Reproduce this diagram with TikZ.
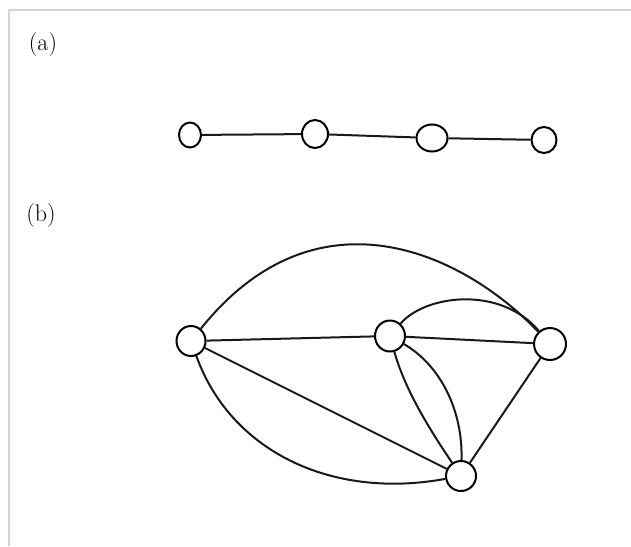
\documentclass[tikz,border=0pt]{standalone}
\usetikzlibrary{shapes.geometric}
\begin{document}
\begin{tikzpicture}[x=1pt,y=-1pt,
  vtx/.style={ellipse,draw=black,fill=white,line width=2pt,inner sep=0pt},
  edge/.style={draw=black!90,line width=2pt},
  lbl/.style={font=\fontsize{24}{24}\selectfont,inner sep=0pt},
  frame/.style={draw=black!17,line width=1.6pt}]
\useasboundingbox (0,0) rectangle (631,546);
\fill[white] (0,0) rectangle (631,546);
\draw[frame] (9,546) -- (9,10) -- (631,10);
\node[lbl] (la) at (43,45) {(a)};
\node[lbl] (lb) at (41,216) {(b)};
% chain (a)
\node[vtx,minimum width=22pt,minimum height=25pt] (p1) at (190,135) {};
\node[vtx,minimum width=26pt,minimum height=28pt] (p2) at (315,134) {};
\node[vtx,minimum width=31pt,minimum height=27pt] (p3) at (432,138) {};
\node[vtx,minimum width=25pt,minimum height=26pt] (p4) at (544,140) {};
\draw[edge] (p1) -- (p2);
\draw[edge] (p2) -- (p3);
\draw[edge] (p3) -- (p4);
% graph (b)
\node[vtx,minimum width=29pt,minimum height=30pt] (A) at (191,341) {};
\node[vtx,minimum width=30pt,minimum height=31pt] (B) at (390,336) {};
\node[vtx,minimum width=32pt,minimum height=32pt] (C) at (550,344) {};
\node[vtx,minimum width=30pt,minimum height=30pt] (D) at (461,476) {};
\draw[edge] (A) .. controls (315,186) and (460,250) .. (C);
\draw[edge] (B) .. controls (425,295) and (500,285) .. (C);
\draw[edge] (A) -- (B);
\draw[edge] (B) -- (C);
\draw[edge] (A) -- (D);
\draw[edge] (A) .. controls (230,450) and (330,500) .. (D);
\draw[edge] (B) .. controls (405,390) and (430,430) .. (D);
\draw[edge] (B) .. controls (440,365) and (463,410) .. (D);
\draw[edge] (C) -- (D);
\end{tikzpicture}
\end{document}
